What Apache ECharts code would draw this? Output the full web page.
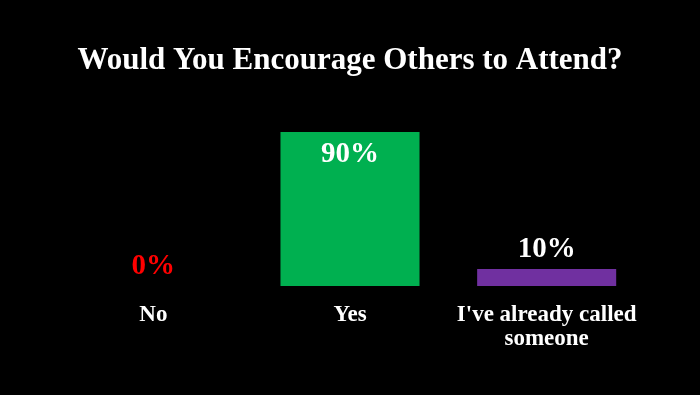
<!DOCTYPE html>
<html><head><meta charset="utf-8">
<script src="https://cdn.jsdelivr.net/npm/echarts@6/dist/echarts.min.js"></script>
<style>html,body{margin:0;padding:0;background:#000}#c{width:700px;height:395px}</style>
</head><body><div id="c"></div>
<script>
const categories = ["No", "Yes", "I've already called\nsomeone"];
const values = [0, 90, 10];
const barColors = ["#FF0000", "#00B050", "#7030A0"];
const labelColors = ["#FF0000", "#FFFFFF", "#FFFFFF"];
const labelPositions = ["top", "insideTop", "top"];
const serif = "'Liberation Serif', 'DejaVu Serif', serif";

const chart = echarts.init(document.getElementById('c'));
chart.setOption({
  backgroundColor: '#000',
  animation: false,
  title: {
    text: 'Would You Encourage Others to Attend?',
    left: 'center', top: 40,
    textStyle: { color: '#fff', fontFamily: serif, fontWeight: 'bold', fontSize: 31 }
  },
  grid: { left: 55, right: 55, top: 115, bottom: 109 },
  xAxis: {
    type: 'category', data: categories,
    axisLine: { show: false }, axisTick: { show: false },
    axisLabel: { color: '#fff', fontFamily: serif, fontWeight: 'bold', fontSize: 23, lineHeight: 24, margin: 17, interval: 0 }
  },
  yAxis: { type: 'value', min: 0, max: 100, show: false, splitLine: { show: false } },
  series: [{
    type: 'bar', barWidth: '70.7%',
    data: values.map((v, i) => ({
      value: v,
      itemStyle: { color: barColors[i] },
      label: { show: true, position: labelPositions[i], color: labelColors[i], distance: i === 1 ? 8 : 5 }
    })),
    label: { formatter: p => p.value + '%', fontFamily: serif, fontWeight: 'bold', fontSize: 29 }
  }]
});
</script></body></html>
